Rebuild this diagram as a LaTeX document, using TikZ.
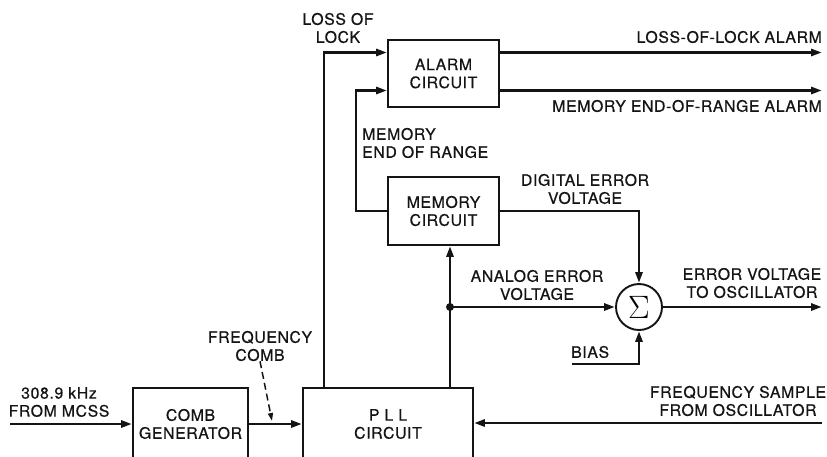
\documentclass[tikz,border=0pt]{standalone}
\usepackage{fontspec}
\setmainfont{TeX Gyre Heros}[LetterSpace=4,FakeBold=0.6]
\usetikzlibrary{arrows.meta,calc,positioning}
\definecolor{Ink}{HTML}{141414}
\newcommand{\lblfont}{\fontsize{15.8}{18}\selectfont}
\tikzset{
  blk/.style={draw=Ink,line width=1.9pt,inner sep=0pt,align=center,text=Ink,font=\lblfont},
  txt/.style={inner sep=0pt,align=center,text=Ink,font=\lblfont},
  sig/.style={draw=Ink,line width=2.8pt}
}

\begin{document}
\begin{tikzpicture}[x=1pt,y=-1pt,>={Triangle[length=11pt,width=7pt]}]
        \clip (0,0) rectangle (827,456);
        \foreach \nm/\cx/\cy/\bw/\bh/\txt in {
          comb/190.5/424/115/72/{COMB\\GENERATOR},
          pll/388/424/170/72/{P L L\\CIRCUIT},
          alarm/443.5/73.5/111/67/{ALARM\\CIRCUIT},
          memory/443.5/211/111/68/{MEMORY\\CIRCUIT}}{
          \node[blk,minimum width=\bw pt,minimum height=\bh pt] (\nm) at (\cx,\cy) {\txt};
        }
        \node[draw=Ink,line width=1.9pt,circle,minimum size=46pt,inner sep=0pt] (sum) at (639,307) {\scalebox{1.3}{\fontsize{24}{24}\selectfont$\Sigma$}};
        \coordinate (src) at (10,424);
        \coordinate (tap) at (272,421);
        \coordinate (jn) at (450,307);
        \coordinate (biasin) at (572,364);
        \coordinate (lolout) at (822,52.5);
        \coordinate (merout) at (822,90.5);
        \coordinate (errout) at (822,307);
        \coordinate (fsin) at (822,423);
        % labels
        \node[txt] (srclbl) at (59,402) {308.9 kHz\\FROM MCSS};
        \node[txt] (comblbl) at (260,346) {FREQUENCY\\COMB};
        \node[txt] (loslbl) at (338,28) {LOSS OF\\LOCK};
        \node[txt,anchor=west,align=left] (endlbl) at (362,143) {MEMORY\\END OF RANGE};
        \node[txt] (diglbl) at (585,189) {DIGITAL ERROR\\VOLTAGE};
        \node[txt] (anlbl) at (537,285) {ANALOG ERROR\\VOLTAGE};
        \node[txt] (errlbl) at (752,283) {ERROR VOLTAGE\\TO OSCILLATOR};
        \node[txt,anchor=west] (biaslbl) at (571,352) {BIAS};
        \node[txt] (fslbl) at (738,401) {FREQUENCY SAMPLE\\FROM OSCILLATOR};
        \node[txt,anchor=east] (lollbl) at (822,37) {LOSS-OF-LOCK ALARM};
        \node[txt,anchor=east] (merlbl) at (822,106) {MEMORY END-OF-RANGE ALARM};
        % signal paths
        \draw[sig,->] (src) -- (comb.west);
        \draw[sig,->] (comb.east) -- (pll.west);
        \draw[draw=Ink,line width=1.5pt,dash pattern=on 7pt off 4pt,->,>={Triangle[length=8pt,width=5pt]}] (comblbl.south) -- (tap);
        \draw[sig,->] ([xshift=22pt]pll.north west) |- ([yshift=21pt]alarm.west);
        \draw[sig,->] (memory.west) -- ++(-31,0) |- ([yshift=-17pt]alarm.west);
        \draw[sig,->] ([yshift=21pt]alarm.east) -- (lolout);
        \draw[sig,->] ([yshift=-17pt]alarm.east) -- (merout);
        \draw[sig,->] (memory.east) -| (sum.north);
        \draw[sig,->] (jn |- pll.north) -- (jn |- memory.south);
        \draw[sig,->] (jn) -- (sum.west);
        \fill[Ink] (jn) circle (4pt);
        \draw[sig,->] (biasin) -| (sum.south);
        \draw[sig,->] (sum.east) -- (errout);
        \draw[sig,->] (fsin) -- (fsin -| pll.east);
      \end{tikzpicture}
\end{document}
